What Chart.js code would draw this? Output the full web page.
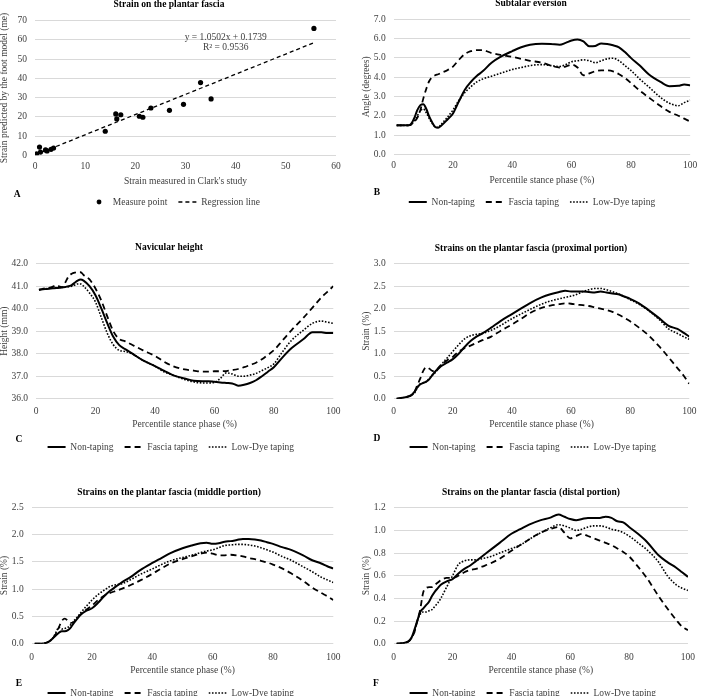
<!DOCTYPE html>
<html><head><meta charset="utf-8">
<script src="https://cdn.jsdelivr.net/npm/chart.js@4.4.1/dist/chart.umd.min.js"></script>
<style>
html,body{margin:0;padding:0;background:#fff;overflow:hidden;width:703px;height:696px;position:relative;}
canvas{position:absolute;}
</style></head><body>
<canvas id="cA"></canvas><canvas id="cB"></canvas>
<canvas id="cC"></canvas><canvas id="cD"></canvas>
<canvas id="cE"></canvas><canvas id="cF"></canvas>
<script>
// ---------- DATA ----------
// Panel A: strain measured (Clark) vs predicted (foot model)
const clarkX = [0.3, 0.9, 1.1, 2.1, 2.4, 3.2, 3.7, 14.0, 16.1, 16.3, 17.1, 20.8, 21.5, 23.1, 26.8, 29.6, 33.0, 35.1, 55.6];
const modelY = [0.7, 4.3, 1.7, 2.8, 2.3, 3.1, 3.8, 12.5, 21.5, 18.9, 21.1, 20.3, 19.8, 24.6, 23.4, 26.5, 37.8, 29.3, 66.0];
const regSlope = 1.0502, regIntercept = 0.1739, regR2 = 0.9536;
const aXTicks = [0, 10, 20, 30, 40, 50, 60];
const aYTicks = [0, 10, 20, 30, 40, 50, 60, 70];

// Stance phase (%) sample points shared by panels B-F
const phase = [1,3,5,6,7,8,9,10,11,12,13,14,15,16,18,20,22,24,26,28,30,33,36,40,43,46,50,53,56,58,60,62,64,66,68,70,72,74,76,78,80,83,86,90,93,96,98,100];
const phaseTicks = [0, 20, 40, 60, 80, 100];
const seriesNames = ['Non-taping', 'Fascia taping', 'Low-Dye taping'];

// B: Subtalar eversion (degrees)
const eversionNon    = [1.5,1.5,1.5,1.6,1.9,2.3,2.55,2.6,2.35,1.95, 1.65,1.42,1.38,1.48,1.78,2.12,2.75,3.35,3.75,4.06, 4.3,4.75,5.05,5.35,5.55,5.68,5.73,5.72,5.68,5.78, 5.9,5.95,5.85,5.6,5.62,5.75,5.72,5.65,5.55,5.3, 5.0,4.6,4.15,3.75,3.53,3.55,3.62,3.58];
const eversionFascia = [1.5,1.5,1.5,1.55,1.7,1.9,2.3,2.9,3.4,3.8, 4.0,4.1,4.15,4.22,4.35,4.55,4.9,5.2,5.35,5.4, 5.4,5.25,5.15,5.05,4.95,4.85,4.75,4.6,4.5,4.55, 4.65,4.5,4.1,4.2,4.3,4.35,4.35,4.3,4.15,3.95, 3.7,3.3,2.95,2.5,2.2,2.0,1.85,1.7];
const eversionLowDye = [1.5,1.5,1.5,1.55,1.75,2.0,2.25,2.35,2.15,1.85, 1.6,1.42,1.4,1.55,1.9,2.3,2.8,3.2,3.5,3.75, 3.9,4.05,4.2,4.4,4.5,4.6,4.65,4.6,4.55,4.65, 4.8,4.85,4.9,4.85,4.75,4.85,4.95,4.98,4.85,4.6, 4.35,3.9,3.5,2.95,2.65,2.52,2.68,2.8];
const eversionTicks = [0, 1, 2, 3, 4, 5, 6, 7];

// C: Navicular height (mm)
const navicularNon    = [40.84,40.87,40.9,40.91,40.92,40.93,40.95,40.97,41.0,41.05, 41.15,41.25,41.3,41.25,41.0,40.6,40.0,39.35,38.75,38.38, 38.2,37.95,37.7,37.45,37.25,37.05,36.9,36.8,36.78,36.78, 36.75,36.72,36.7,36.68,36.58,36.62,36.7,36.82,37.0,37.2, 37.4,37.85,38.25,38.65,38.95,38.95,38.92,38.92];
const navicularFascia = [40.84,40.9,40.95,41.0,41.05,40.98,40.95,41.2,41.45,41.55, 41.6,41.62,41.62,41.5,41.3,40.9,40.35,39.65,39.0,38.65, 38.55,38.35,38.15,37.9,37.65,37.45,37.3,37.25,37.2,37.2, 37.22,37.22,37.23,37.27,37.32,37.4,37.5,37.6,37.75,37.95, 38.15,38.6,39.05,39.6,40.05,40.5,40.75,41.0];
const navicularLowDye = [40.84,40.88,40.92,40.93,40.94,40.95,40.96,40.97,40.98,41.0, 41.05,41.1,41.1,41.0,40.7,40.3,39.6,38.9,38.4,38.15, 38.1,37.95,37.7,37.45,37.2,37.05,36.85,36.75,36.7,36.7, 36.72,36.9,37.15,37.1,37.0,37.0,37.05,37.12,37.25,37.38, 37.55,38.1,38.6,39.05,39.35,39.45,39.4,39.35];
const navicularTicks = [36, 37, 38, 39, 40, 41, 42];

// D: Strain, proximal portion (%)
const proximalNon    = [0.0,0.02,0.05,0.08,0.15,0.25,0.32,0.35,0.38,0.43, 0.52,0.6,0.66,0.72,0.8,0.88,1.0,1.15,1.28,1.38, 1.45,1.58,1.72,1.88,2.0,2.12,2.25,2.32,2.37,2.4, 2.38,2.38,2.38,2.37,2.36,2.38,2.36,2.34,2.32,2.27, 2.22,2.12,1.98,1.78,1.62,1.55,1.47,1.38];
const proximalFascia = [0,0.02,0.05,0.08,0.15,0.3,0.45,0.62,0.7,0.67, 0.62,0.6,0.68,0.75,0.85,0.93,1.05,1.12,1.18,1.24, 1.3,1.38,1.5,1.65,1.77,1.9,2.02,2.07,2.1,2.12, 2.11,2.09,2.08,2.06,2.03,2.0,1.97,1.93,1.87,1.8, 1.72,1.58,1.42,1.15,0.92,0.68,0.52,0.33];
const proximalLowDye = [0,0.02,0.05,0.08,0.12,0.25,0.33,0.35,0.38,0.45, 0.52,0.58,0.66,0.75,0.9,1.05,1.2,1.33,1.4,1.43, 1.45,1.52,1.62,1.78,1.88,1.98,2.1,2.17,2.22,2.25, 2.28,2.32,2.38,2.42,2.45,2.45,2.42,2.38,2.33,2.27, 2.2,2.1,1.97,1.75,1.55,1.45,1.38,1.32];
const proximalTicks = [0, 0.5, 1, 1.5, 2, 2.5, 3];

// E: Strain, middle portion (%)
const middleNon    = [0,0,0.02,0.05,0.1,0.15,0.2,0.23,0.23,0.25, 0.3,0.38,0.45,0.52,0.6,0.65,0.75,0.87,0.97,1.05, 1.13,1.23,1.35,1.48,1.57,1.66,1.75,1.8,1.84,1.85, 1.83,1.84,1.87,1.88,1.9,1.92,1.92,1.91,1.89,1.86, 1.83,1.77,1.72,1.62,1.53,1.47,1.42,1.38];
const middleFascia = [0,0,0.02,0.05,0.1,0.18,0.3,0.42,0.46,0.42, 0.38,0.4,0.46,0.52,0.62,0.7,0.8,0.88,0.93,0.97, 1.01,1.08,1.16,1.28,1.38,1.47,1.55,1.6,1.65,1.67, 1.65,1.62,1.62,1.63,1.62,1.6,1.57,1.55,1.52,1.49, 1.45,1.38,1.29,1.15,1.03,0.93,0.87,0.8];
const middleLowDye = [0,0,0.02,0.05,0.1,0.2,0.3,0.27,0.28,0.3, 0.35,0.42,0.48,0.55,0.68,0.8,0.9,0.98,1.05,1.08, 1.1,1.18,1.27,1.37,1.45,1.52,1.58,1.62,1.67,1.7, 1.72,1.76,1.8,1.81,1.82,1.82,1.81,1.79,1.76,1.72, 1.68,1.6,1.53,1.41,1.32,1.22,1.17,1.12];
const middleTicks = [0, 0.5, 1, 1.5, 2, 2.5];

// F: Strain, distal portion (%)
const distalNon    = [0,0.005,0.02,0.05,0.12,0.2,0.28,0.31,0.34,0.37, 0.42,0.46,0.49,0.52,0.55,0.57,0.62,0.66,0.69,0.73, 0.77,0.83,0.89,0.97,1.01,1.05,1.09,1.11,1.14,1.12, 1.1,1.09,1.1,1.11,1.11,1.11,1.12,1.11,1.08,1.07, 1.03,0.97,0.9,0.78,0.72,0.67,0.63,0.59];
const distalFascia = [0,0.005,0.02,0.05,0.1,0.2,0.3,0.45,0.49,0.5, 0.5,0.52,0.54,0.56,0.58,0.58,0.6,0.63,0.65,0.66, 0.68,0.71,0.75,0.82,0.87,0.92,0.98,1.01,1.03,0.98, 0.93,0.95,0.97,0.95,0.93,0.91,0.89,0.87,0.84,0.81, 0.77,0.68,0.58,0.42,0.31,0.21,0.15,0.12];
const distalLowDye = [0,0.005,0.02,0.05,0.1,0.2,0.26,0.28,0.28,0.29, 0.3,0.33,0.36,0.4,0.5,0.6,0.7,0.73,0.74,0.74, 0.75,0.77,0.8,0.84,0.87,0.92,0.98,1.02,1.05,1.04, 1.02,1.0,1.01,1.03,1.04,1.04,1.03,1.01,1.0,0.98, 0.95,0.89,0.83,0.72,0.6,0.52,0.49,0.47];
const distalTicks = [0, 0.2, 0.4, 0.6, 0.8, 1.0, 1.2];

// ---------- STYLE / LAYOUT ----------
const FAMILY = "'Liberation Serif','Times New Roman',serif";
const FS = 9.5, LH = FS * 1.2;
const TXT = '#404040';
const LEG_PAD = 11;
Chart.defaults.font.family = FAMILY;
Chart.defaults.font.size = FS;
Chart.defaults.color = TXT;

const lineStyles = [
  { borderWidth: 2, borderDash: [] },
  { borderWidth: 1.8, borderDash: [6, 4] },
  { borderWidth: 1.6, borderDash: [1.6, 1.6] }
];

function layoutFrom(g) {
  const legendH = FS + LEG_PAD + 10;
  const legendTop = g.legendY - LEG_PAD - FS / 2;
  const L = g.legendCX * 2 - g.W + g.R;
  return {
    padding: { left: L, right: g.R, top: g.top, bottom: g.H - legendH - legendTop },
    yW: g.chartLeft - L,
    yTitlePad: g.yTitleX - L - LH / 2,
    xH: legendTop - g.bottom,
    xTickPad: g.xTickY - g.bottom - LH / 2,
    xTitlePad: legendTop - LH / 2 - g.xTitleY
  };
}

function textPlugin(t) {
  return {
    id: 'panelText',
    afterDraw(chart) {
      const ctx = chart.ctx;
      ctx.save();
      ctx.fillStyle = '#000';
      ctx.textAlign = 'center';
      ctx.textBaseline = 'middle';
      ctx.font = 'bold ' + FS + 'px ' + FAMILY;
      ctx.fillText(t.title, t.titleX, t.titleY);
      ctx.fillText(t.letter, t.letterX, t.letterY);
      if (t.extra) t.extra(chart, ctx);
      ctx.restore();
    }
  };
}

function place(id, g) {
  const c = document.getElementById(id);
  c.width = g.W; c.height = g.H;
  c.style.left = g.left + 'px'; c.style.top = g.canvasTop + 'px';
  c.style.width = g.W + 'px'; c.style.height = g.H + 'px';
  return c;
}

function ticksFrom(arr) { return s => { s.ticks = arr.map(v => ({ value: v })); }; }

// legend items take their stroke style straight from the datasets
function legendItems(ch, styleFor) {
  const items = Chart.defaults.plugins.legend.labels.generateLabels(ch);
  items.forEach((it, i) => {
    const ds = ch.data.datasets[it.datasetIndex];
    it.lineDash = ds.borderDash || [];
    it.lineWidth = ds.borderWidth;
    it.strokeStyle = ds.borderColor;
    it.fillStyle = ds.borderColor;
    it.pointStyle = styleFor(i);
  });
  return items;
}

function axes(lay, g, xTicks, yTicks, xMin, xMax, yMin, yMax, xTitle, yTitle, yDigits) {
  return {
    x: {
      type: 'linear', min: xMin, max: xMax,
      afterBuildTicks: ticksFrom(xTicks),
      afterFit: s => { s.height = lay.xH; },
      grid: { display: false, drawTicks: false },
      border: { display: false },
      ticks: { padding: lay.xTickPad, color: TXT, maxRotation: 0, autoSkip: false },
      title: { display: true, text: xTitle, color: TXT, padding: { top: 0, bottom: lay.xTitlePad } }
    },
    y: {
      min: yMin, max: yMax,
      afterBuildTicks: ticksFrom(yTicks),
      afterFit: s => { s.width = lay.yW; },
      grid: { color: '#d9d9d9', lineWidth: 1, drawTicks: false },
      border: { display: false },
      ticks: { padding: 8, color: TXT, autoSkip: false, callback: v => yDigits ? Number(v).toFixed(yDigits) : String(v) },
      title: { display: true, text: yTitle, color: TXT, padding: { top: lay.yTitlePad, bottom: 0 } }
    }
  };
}

function linePanel(id, g, t, series, yTicks, yTitle) {
  const c = place(id, g);
  const lay = layoutFrom(g);
  const datasets = series.map((vals, i) => ({
    label: seriesNames[i],
    data: phase.map((p, k) => ({ x: p, y: vals[k] })),
    borderColor: '#000', backgroundColor: '#000',
    borderWidth: lineStyles[i].borderWidth, borderDash: lineStyles[i].borderDash,
    pointRadius: 0, pointHoverRadius: 0, pointStyle: 'line',
    cubicInterpolationMode: 'monotone', fill: false
  }));
  return new Chart(c, {
    type: 'line',
    data: { datasets },
    options: {
      responsive: false, animation: false, devicePixelRatio: 1,
      layout: { padding: lay.padding },
      scales: axes(lay, g, phaseTicks, yTicks, 0, 100, yTicks[0], yTicks[yTicks.length - 1], 'Percentile stance phase (%)', yTitle, 1),
      plugins: {
        title: { display: false },
        tooltip: { enabled: false },
        legend: {
          position: 'bottom',
          labels: {
            usePointStyle: true, pointStyleWidth: 18, boxWidth: 18, padding: LEG_PAD, color: TXT,
            font: { size: FS },
            generateLabels: ch => legendItems(ch, () => 'line')
          }
        }
      }
    },
    plugins: [textPlugin(t)]
  });
}

// ---------- PANEL A ----------
(function () {
  const g = { left: 0, canvasTop: 0, W: 351, H: 232, chartLeft: 35, R: 15, legendCX: 175, yTitleX: 4.5,
              top: 20.7, bottom: 155.3, xTickY: 166.7, xTitleY: 181, legendY: 202 };
  const c = place('cA', g);
  const lay = layoutFrom(g);
  const minX = Math.min(...clarkX), maxX = Math.max(...clarkX);
  const regLine = [minX, maxX].map(x => ({ x, y: regSlope * x + regIntercept }));
  const dot = document.createElement('canvas');
  dot.width = 6; dot.height = 6;
  const dctx = dot.getContext('2d');
  dctx.fillStyle = '#000'; dctx.beginPath(); dctx.arc(3, 3, 2.4, 0, Math.PI * 2); dctx.fill();
  new Chart(c, {
    type: 'scatter',
    data: {
      datasets: [
        { label: 'Measure point', data: clarkX.map((x, i) => ({ x, y: modelY[i] })),
          backgroundColor: '#000', borderColor: '#000', borderWidth: 0, pointRadius: 2.6, pointHoverRadius: 2.6, pointBorderWidth: 0 },
        { type: 'line', label: 'Regression line', data: regLine, borderColor: '#000', backgroundColor: '#000',
          borderWidth: 1.3, borderDash: [4, 3], pointRadius: 0, pointHoverRadius: 0, fill: false }
      ]
    },
    options: {
      responsive: false, animation: false, devicePixelRatio: 1,
      layout: { padding: lay.padding },
      scales: axes(lay, g, aXTicks, aYTicks, 0, 60, 0, 70, "Strain measured in Clark's study", 'Strain predicted by the foot model (me)', 0),
      plugins: {
        tooltip: { enabled: false },
        legend: {
          position: 'bottom',
          labels: {
            usePointStyle: true, pointStyleWidth: 18, boxWidth: 18, padding: LEG_PAD, color: TXT, font: { size: FS },
            generateLabels: ch => legendItems(ch, i => (i === 0 ? dot : 'line'))
          }
        }
      }
    },
    plugins: [textPlugin({
      title: 'Strain on the plantar fascia', titleX: 169, titleY: 4.5,
      letter: 'A', letterX: 17.3, letterY: 194.3,
      extra: (chart, ctx) => {
        ctx.font = FS + 'px ' + FAMILY;
        ctx.fillStyle = TXT;
        ctx.fillText('y = ' + regSlope.toFixed(4) + 'x + ' + regIntercept.toFixed(4), 225.7, 37.3);
        ctx.fillText('R\u00B2 = ' + regR2.toFixed(4), 225.7, 47.7);
      }
    })]
  });
})();

// ---------- PANELS B-F ----------
linePanel('cB',
  { left: 352, canvasTop: 0, W: 351, H: 232, chartLeft: 41.7, R: 7.7, legendCX: 180, yTitleX: 14.3,
    top: 19.3, bottom: 154.3, xTickY: 165.7, xTitleY: 180, legendY: 202 },
  { title: 'Subtalar eversion', titleX: 179, titleY: 4, letter: 'B', letterX: 25, letterY: 192.7 },
  [eversionNon, eversionFascia, eversionLowDye], eversionTicks, 'Angle (degrees)');

linePanel('cC',
  { left: 0, canvasTop: 232, W: 351, H: 232, chartLeft: 36, R: 17.7, legendCX: 170.8, yTitleX: 4,
    top: 31.7, bottom: 166.7, xTickY: 179, xTitleY: 192.3, legendY: 215 },
  { title: 'Navicular height', titleX: 169, titleY: 15.7, letter: 'C', letterX: 19, letterY: 207.3 },
  [navicularNon, navicularFascia, navicularLowDye], navicularTicks, 'Height (mm)');

linePanel('cD',
  { left: 352, canvasTop: 232, W: 351, H: 232, chartLeft: 41.7, R: 7.7, legendCX: 180.8, yTitleX: 14,
    top: 31.7, bottom: 166.7, xTickY: 179, xTitleY: 192.3, legendY: 215 },
  { title: 'Strains on the plantar fascia (proximal portion)', titleX: 179, titleY: 16.7, letter: 'D', letterX: 25, letterY: 206.7 },
  [proximalNon, proximalFascia, proximalLowDye], proximalTicks, 'Strain (%)');

linePanel('cE',
  { left: 0, canvasTop: 464, W: 351, H: 244, chartLeft: 31.7, R: 17.7, legendCX: 170.8, yTitleX: 4,
    top: 43.3, bottom: 179.7, xTickY: 193.3, xTitleY: 206, legendY: 229 },
  { title: 'Strains on the plantar fascia (middle portion)', titleX: 169, titleY: 29, letter: 'E', letterX: 19, letterY: 220 },
  [middleNon, middleFascia, middleLowDye], middleTicks, 'Strain (%)');

linePanel('cF',
  { left: 352, canvasTop: 464, W: 351, H: 244, chartLeft: 41.7, R: 7.7, legendCX: 180.8, yTitleX: 14,
    top: 43.7, bottom: 179.7, xTickY: 193.3, xTitleY: 206, legendY: 229 },
  { title: 'Strains on the plantar fascia (distal portion)', titleX: 179, titleY: 29, letter: 'F', letterX: 24, letterY: 220 },
  [distalNon, distalFascia, distalLowDye], distalTicks, 'Strain (%)');
</script>
</body></html>
